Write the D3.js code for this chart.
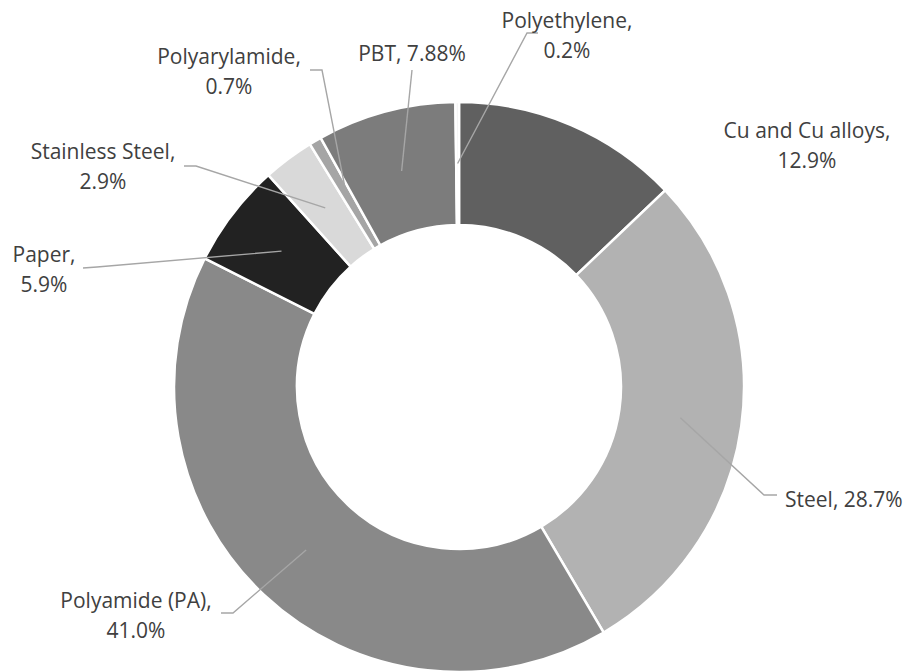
<!DOCTYPE html>
<html><head><meta charset="utf-8">
<script src="https://cdn.jsdelivr.net/npm/d3@7"></script>
<style>body{margin:0;background:#fff}svg{display:block}text{font-family:"Open Sans",sans-serif;fill:#404040}</style>
</head><body>
<script>
const categories = ["Cu and Cu alloys","Steel","Polyamide (PA)","Paper","Stainless Steel","Polyarylamide","PBT","Polyethylene"];
const values = [12.9,28.7,41.0,5.9,2.9,0.7,7.88,0.2];
const valueLabels = ["12.9%","28.7%","41.0%","5.9%","2.9%","0.7%","7.88%","0.2%"];
const colors = ["#606060","#b2b2b2","#898989","#222222","#d9d9d9","#a5a5a5","#7c7c7c","#f2f2f2"];

// label layout: text position (baseline of first line), two-line or one-line, leader bend & end (null = no leader)
const layout = [
  {split:true,  x:807, y:138, anchor:"middle", leader:null},
  {split:false, x:785, y:507, anchor:"start",  leader:[[764,495],[777,495]]},
  {split:true,  x:136, y:608, anchor:"middle", leader:[[233,613],[221,613]]},
  {split:true,  x:44,  y:262, anchor:"middle", leader:[[97,267],[83,268]]},
  {split:true,  x:103, y:159, anchor:"middle", leader:[[196,166],[184,166]]},
  {split:true,  x:229, y:64,  anchor:"middle", leader:[[322,70],[310,70]]},
  {split:false, x:412, y:61,  anchor:"middle", leader:[[412,70]]},
  {split:true,  x:567, y:28,  anchor:"middle", leader:[[527,33],[538,33]]}
];

const W=908,H=671, cx=459, cy=387, R=285, r=162;
const svg=d3.select("body").append("svg").attr("width",W).attr("height",H);
const g=svg.append("g").attr("transform",`translate(${cx},${cy})`);
const pie=d3.pie().sort(null).value(d=>d)(values);
const arc=d3.arc().innerRadius(r).outerRadius(R);
g.selectAll("path.s").data(pie).join("path").attr("class","s")
  .attr("d",arc).attr("fill",(d,i)=>colors[i]).attr("stroke","#fff").attr("stroke-width",2.5);

// leaders
pie.forEach((d,i)=>{
  const L=layout[i];
  if(!L.leader) return;
  const c=arc.centroid(d);
  const pts=[[cx+c[0],cy+c[1]],...L.leader];
  svg.append("path").attr("d",d3.line()(pts)).attr("fill","none").attr("stroke","#a6a6a6").attr("stroke-width",1.4);
});
// labels
layout.forEach((L,i)=>{
  const lines = L.split ? [categories[i]+",", valueLabels[i]] : [categories[i]+", "+valueLabels[i]];
  const t=svg.append("text").attr("text-anchor",L.anchor).attr("font-size",21);
  lines.forEach((s,j)=>t.append("tspan").attr("x",L.x).attr("y",L.y+j*30).text(s));
});
</script>
</body></html>
